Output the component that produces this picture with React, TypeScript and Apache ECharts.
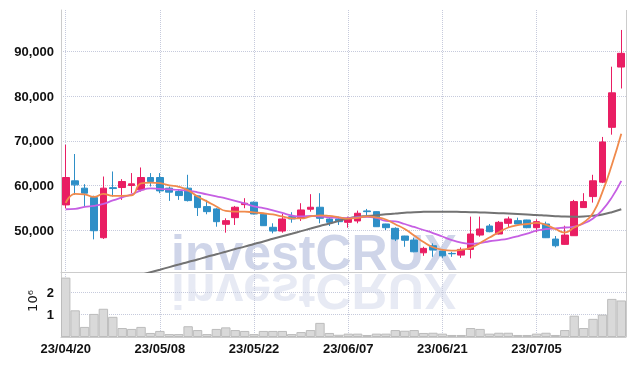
import React, { useEffect, useRef } from 'react';
import * as echarts from 'echarts';

const dates = [
  '23/04/20','23/04/21','23/04/24','23/04/25','23/04/26','23/04/27','23/04/28',
  '23/05/02','23/05/03','23/05/04','23/05/08','23/05/09','23/05/10','23/05/11','23/05/12',
  '23/05/15','23/05/16','23/05/17','23/05/18','23/05/19','23/05/22','23/05/23','23/05/24',
  '23/05/25','23/05/26','23/05/30','23/05/31','23/06/01','23/06/02','23/06/05','23/06/07',
  '23/06/08','23/06/09','23/06/12','23/06/13','23/06/14','23/06/15','23/06/16','23/06/19',
  '23/06/20','23/06/21','23/06/22','23/06/23','23/06/26','23/06/27','23/06/28','23/06/29',
  '23/06/30','23/07/03','23/07/04','23/07/05','23/07/06','23/07/07','23/07/10','23/07/11',
  '23/07/12','23/07/13','23/07/14','23/07/17','23/07/18'
];

const opens = [55630, 61040, 59390, 57280, 48270, 59500, 59530, 59980, 59010, 61780, 61780, 59390, 58630, 59390, 57660, 55250, 54730, 51280, 52770, 55700, 56240, 53530, 50610, 49770, 53000, 52630, 54660, 55110, 52480, 52480, 51730, 52030, 54280, 54120, 51350, 50380, 48650, 47750, 44890, 46470, 45270, 44750, 44370, 45650, 48870, 50900, 49100, 51500, 52100, 52250, 50520, 51350, 47970, 46780, 48720, 55030, 57500, 60740, 73040, 86560];
const closes = [61780, 60130, 58260, 49840, 59390, 59300, 60880, 60360, 61780, 60880, 58780, 58490, 57730, 56600, 55030, 54120, 51870, 52100, 55110, 56010, 53600, 50970, 49770, 52480, 52480, 54500, 55110, 52630, 51730, 51870, 52630, 53760, 54120, 50740, 50520, 47970, 47700, 45120, 45880, 45500, 44210, 44670, 45650, 49100, 50225, 49620, 51730, 52480, 51350, 50520, 51870, 48270, 46470, 48870, 56370, 56370, 61040, 69750, 80780, 89640];
const lows = [54890, 57880, 55250, 47900, 48000, 57500, 56760, 58260, 58630, 59750, 58260, 56530, 56760, 56400, 53150, 53530, 50740, 49400, 51130, 54890, 53500, 50900, 49250, 49400, 51640, 52030, 54120, 51500, 50900, 51130, 50520, 51510, 53220, 50700, 50000, 47520, 46240, 45000, 44210, 43990, 43760, 43990, 43760, 43630, 48500, 49500, 49000, 50520, 51300, 50400, 49480, 48200, 46100, 46700, 48700, 55000, 56150, 60520, 71390, 81750];
const highs = [69140, 67050, 60290, 57700, 62000, 63130, 61420, 62770, 64030, 62770, 62770, 59750, 59000, 62390, 57800, 56760, 54900, 52630, 55400, 57140, 56400, 53600, 51510, 53600, 53990, 56010, 58040, 58260, 52770, 53000, 53000, 54350, 54730, 54200, 51400, 50600, 48700, 48270, 46240, 47000, 45400, 45110, 46100, 53000, 53000, 51350, 52030, 53000, 52770, 52300, 52410, 51870, 48650, 50970, 56760, 58260, 62390, 70880, 86640, 94880];

const volumes = [2650000, 1190000, 450000, 1030000, 1260000, 900000, 400000, 360000, 450000, 180000, 270000, 130000, 130000, 480000, 310000, 130000, 360000, 430000, 310000, 270000, 130000, 270000, 270000, 270000, 130000, 220000, 310000, 630000, 180000, 100000, 150000, 150000, 90000, 150000, 150000, 310000, 280000, 310000, 180000, 190000, 150000, 90000, 90000, 400000, 360000, 150000, 190000, 190000, 90000, 90000, 150000, 190000, 90000, 310000, 950000, 400000, 810000, 1000000, 1700000, 1630000];

const ma5 = [56080, 58110, 57990, 57430, 58110, 57660, 57660, 57770, 60470, 60650, 60520, 60020, 59700, 58900, 57500, 56420, 55290, 54280, 54120, 54120, 53940, 53760, 53490, 53040, 52630, 52590, 53040, 53300, 53150, 52850, 52550, 52700, 53050, 52850, 52360, 51300, 50220, 48760, 47300, 46130, 45560, 45360, 45560, 46000, 47100, 48300, 49500, 50560, 51100, 51350, 51620, 51130, 50230, 49440, 50560, 51690, 53830, 58560, 64640, 71620];
const ma10 = [54660, 54730, 55180, 55400, 55860, 56640, 57320, 57990, 58900, 59350, 59250, 59120, 59010, 58830, 58450, 57990, 57540, 57090, 56530, 55970, 55300, 54890, 54390, 53830, 53270, 53040, 53150, 53040, 52810, 52750, 52650, 52860, 52970, 52700, 52030, 51920, 51350, 50680, 50000, 49320, 48540, 47750, 47190, 46900, 47080, 47480, 47750, 48090, 48580, 49210, 49850, 50230, 50380, 50560, 50740, 51460, 52590, 54500, 57320, 61030];
const ma60 = [null, null, null, null, null, null, null, null, 39950, 40530, 41100, 41680, 42250, 42840, 43400, 43990, 44550, 45140, 45720, 46280, 46870, 47430, 48020, 48600, 49170, 49750, 50320, 50900, 51460, 52050, 52610, 52950, 53130, 53310, 53510, 53690, 53870, 54010, 54080, 54120, 54120, 54100, 54050, 54010, 53940, 53870, 53780, 53690, 53600, 53490, 53380, 53240, 53110, 53020, 53000, 53040, 53200, 53490, 53990, 54660];

const UP = '#e91e63';
const DOWN = '#2e8fc7';
const GRID_LINE = '#c6cadc';
const AXIS_LINE = '#cccccc';
const FONT = '"Liberation Sans", Arial, sans-serif';
const LABEL = { color: '#111111', fontSize: 13, fontWeight: 'bold' as const, fontFamily: FONT };

export default function App() {
  const ref = useRef<HTMLDivElement>(null);
  useEffect(() => {
    if (!ref.current) return;
    const chart = echarts.init(ref.current, undefined, { renderer: 'svg' });
    const candles = dates.map((_, i) => [opens[i], closes[i], lows[i], highs[i]]);
    const splitLine = {
      show: true,
      interval: 9,
      alignWithLabel: true,
      lineStyle: { color: GRID_LINE, type: 'dotted', width: 1 },
    };
    const option: any = {
      animation: false,
      textStyle: { fontFamily: FONT },
      grid: [
        { left: 61, right: 8, top: 10, height: 262 },
        { left: 61, right: 8, top: 272, height: 65 },
      ],
      xAxis: [
        {
          type: 'category', gridIndex: 0, data: dates, boundaryGap: true,
          axisLine: { show: true, lineStyle: { color: AXIS_LINE } },
          axisTick: { show: false },
          axisLabel: { show: false, interval: 9 },
          splitLine,
        },
        {
          type: 'category', gridIndex: 1, data: dates, boundaryGap: true,
          axisLine: { show: true, lineStyle: { color: AXIS_LINE } },
          axisTick: { show: false, alignWithLabel: true, interval: 9 },
          axisLabel: { ...LABEL, interval: 9, margin: 5 },
          splitLine,
        },
      ],
      yAxis: [
        {
          type: 'value', gridIndex: 0, min: 40580, max: 99360, splitNumber: 5, scale: true,
          axisLine: { show: true, lineStyle: { color: AXIS_LINE } },
          axisTick: { show: false },
          axisLabel: {
            ...LABEL, margin: 7,
            showMinLabel: false, showMaxLabel: false,
            formatter: (v: number) => (v % 10000 === 0 ? v.toLocaleString('en-US') : ''),
          },
          splitLine: { show: true, showMinLine: false, showMaxLine: false, lineStyle: { color: GRID_LINE, type: 'dotted' } },
        },
        {
          type: 'value', gridIndex: 1, min: 0, max: 2900000, interval: 1000000,
          axisLine: { show: true, lineStyle: { color: AXIS_LINE } },
          axisTick: { show: false },
          axisLabel: {
            ...LABEL, margin: 7,
            showMinLabel: false, showMaxLabel: false,
            formatter: (v: number) => (v > 0 && v % 1000000 === 0 ? String(v / 1000000) : ''),
          },
          splitLine: { show: true, showMinLine: false, showMaxLine: false, lineStyle: { color: GRID_LINE, type: 'dotted' } },
        },
      ],
      graphic: [
        {
          type: 'text', x: 171, y: 253, z: -10, silent: true,
          style: { text: 'investCRUX', font: 'bold 50px "Liberation Sans", Arial, sans-serif', fill: '#cfd5e9', verticalAlign: 'middle', align: 'left' },
        },
        {
          type: 'text', x: 171, y: 291, scaleY: -1, z: -10, silent: true,
          style: { text: 'investCRUX', font: 'bold 50px "Liberation Sans", Arial, sans-serif', fill: '#cfd5e9', opacity: 0.5, verticalAlign: 'middle', align: 'left' },
        },
        {
          type: 'line', silent: true,
          shape: { x1: 626.5, y1: 10, x2: 626.5, y2: 337 },
          style: { stroke: AXIS_LINE, lineWidth: 1 },
        },
        {
          type: 'text', x: 32, y: 301, rotation: Math.PI / 2, silent: true,
          style: { text: '10⁶', font: '13px "DejaVu Sans", sans-serif', fill: '#1a1a1a', align: 'center', verticalAlign: 'middle' },
        },
      ],
      series: [
        {
          type: 'candlestick', xAxisIndex: 0, yAxisIndex: 0, data: candles, barWidth: '76%',
          itemStyle: { color: UP, color0: DOWN, borderColor: UP, borderColor0: DOWN, borderWidth: 1 },
        },
        {
          type: 'line', xAxisIndex: 0, yAxisIndex: 0, data: ma60, showSymbol: false, smooth: true,
          lineStyle: { color: '#737373', width: 2 }, connectNulls: false,
        },
        {
          type: 'line', xAxisIndex: 0, yAxisIndex: 0, data: ma10, showSymbol: false, smooth: true,
          lineStyle: { color: '#c65fe3', width: 1.8 },
        },
        {
          type: 'line', xAxisIndex: 0, yAxisIndex: 0, data: ma5, showSymbol: false, smooth: true,
          lineStyle: { color: '#f08a4c', width: 1.8 },
        },
        {
          type: 'bar', xAxisIndex: 1, yAxisIndex: 1, data: volumes, barCategoryGap: '0%',
          itemStyle: { color: '#d9d9d9', borderColor: '#bcbcbc', borderWidth: 1 },
        },
      ],
    };
    chart.setOption(option);
    return () => chart.dispose();
  }, []);
  return <div ref={ref} style={{ position: 'fixed', left: 0, top: 0, width: 634, height: 366 }} />;
}
